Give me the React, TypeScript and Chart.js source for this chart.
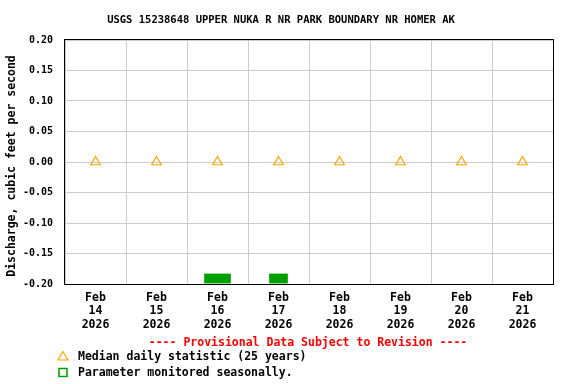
import React, { useEffect, useRef } from 'react';
import { Chart, registerables } from 'chart.js';

Chart.register(...registerables);

const titleText = 'USGS 15238648 UPPER NUKA R NR PARK BOUNDARY NR HOMER AK';
const yAxisTitle = 'Discharge, cubic feet per second';
const provisionalText = '---- Provisional Data Subject to Revision ----';
const medianLegend = 'Median daily statistic (25 years)';
const seasonalLegend = 'Parameter monitored seasonally.';

const dayLabels: string[][] = [
  ['Feb', '14', '2026'],
  ['Feb', '15', '2026'],
  ['Feb', '16', '2026'],
  ['Feb', '17', '2026'],
  ['Feb', '18', '2026'],
  ['Feb', '19', '2026'],
  ['Feb', '20', '2026'],
  ['Feb', '21', '2026'],
];
const medianValues = [0, 0, 0, 0, 0, 0, 0, 0];
const seasonalFeb16 = [null, null, [-0.1985, -0.1835], null, null, null, null, null];
const seasonalFeb17 = [null, null, null, [-0.1985, -0.1835], null, null, null, null];
const yMin = -0.2;
const yMax = 0.2;
const yStep = 0.05;

const FONT = '"DejaVu Sans Mono", "Liberation Mono", monospace';
const ORANGE = '#FFA500';
const GREEN = 'rgb(0,160,0)';

const decorPlugin = {
  id: 'decor',
  afterDraw(chart: any) {
    const { ctx, chartArea } = chart;
    const { left, right, top, bottom } = chartArea;
    ctx.save();
    // frame
    ctx.strokeStyle = '#000';
    ctx.lineWidth = 1;
    const l = Math.round(left) - 0.5;
    const r = Math.round(right) + 0.5;
    const t = Math.round(top) - 0.5;
    const b = Math.round(bottom) + 0.5;
    ctx.strokeRect(l, t, r - l, b - t);

    // title
    ctx.fillStyle = '#000';
    ctx.font = `bold 10.5px ${FONT}`;
    ctx.textAlign = 'center';
    ctx.textBaseline = 'middle';
    ctx.fillText(titleText, 281, 20);

    // y axis title
    ctx.save();
    ctx.font = `bold 11.5px ${FONT}`;
    ctx.translate(12, (top + bottom) / 2 + 4);
    ctx.rotate(-Math.PI / 2);
    ctx.fillText(yAxisTitle, 0, 0);
    ctx.restore();

    // provisional
    ctx.font = `bold 11.5px ${FONT}`;
    ctx.fillStyle = '#FF0000';
    ctx.fillText(provisionalText, 308, 343);

    // legend entries
    ctx.textAlign = 'left';
    ctx.fillStyle = '#000';
    ctx.fillText(medianLegend, 78, 357);
    ctx.fillText(seasonalLegend, 78, 373);

    // triangle marker
    ctx.strokeStyle = ORANGE;
    ctx.lineWidth = 1.2;
    ctx.beginPath();
    ctx.moveTo(63, 351.5);
    ctx.lineTo(68, 360);
    ctx.lineTo(58, 360);
    ctx.closePath();
    ctx.stroke();

    // square marker
    ctx.strokeStyle = GREEN;
    ctx.lineWidth = 1.5;
    ctx.strokeRect(59, 368.5, 8, 8);
    ctx.restore();
  },
};

export default function App() {
  const ref = useRef<HTMLCanvasElement | null>(null);

  useEffect(() => {
    document.body.style.margin = '0';
    const canvas = ref.current;
    if (!canvas) return;
    const chart = new Chart(canvas, {
      type: 'bar',
      data: {
        labels: dayLabels as any,
        datasets: [
          {
            type: 'line',
            label: medianLegend,
            data: medianValues,
            showLine: false,
            pointStyle: 'triangle',
            pointRadius: 5.5,
            pointHoverRadius: 5.5,
            pointBorderColor: ORANGE,
            pointBackgroundColor: 'rgba(0,0,0,0)',
            pointBorderWidth: 1.2,
            borderColor: ORANGE,
            backgroundColor: 'rgba(0,0,0,0)',
            order: 0,
          } as any,
          {
            type: 'bar',
            label: seasonalLegend,
            data: seasonalFeb16 as any,
            backgroundColor: GREEN,
            borderWidth: 0,
            barThickness: 26,
            grouped: false,
            order: 1,
          } as any,
          {
            type: 'bar',
            label: seasonalLegend,
            data: seasonalFeb17 as any,
            backgroundColor: GREEN,
            borderWidth: 0,
            barThickness: 18,
            grouped: false,
            order: 1,
          } as any,
        ],
      },
      options: {
        responsive: false,
        animation: false,
        events: [],
        layout: { padding: { left: 0, right: 23, top: 40, bottom: 50 } },
        plugins: {
          legend: { display: false },
          title: { display: false },
          tooltip: { enabled: false },
        },
        scales: {
          x: {
            type: 'category',
            offset: true,
            grid: { offset: true, color: '#CCCCCC', lineWidth: 1, drawTicks: false },
            border: { display: false },
            ticks: {
              color: '#000',
              font: { family: FONT, size: 11.5, weight: 'bold', lineHeight: '13.5px' } as any,
              padding: 7,
              maxRotation: 0,
              autoSkip: false,
            },
            afterFit: (scale: any) => {
              scale.height = 50;
            },
          },
          y: {
            type: 'linear',
            min: yMin,
            max: yMax,
            grid: { color: '#CCCCCC', lineWidth: 1, drawTicks: false },
            border: { display: false },
            ticks: {
              stepSize: yStep,
              color: '#000',
              padding: 12,
              font: { family: FONT, size: 10, weight: 'bold' } as any,
              callback: (v: any) => Number(v).toFixed(2),
            },
            title: { display: false },
            afterFit: (scale: any) => {
              scale.width = 65;
            },
          },
        },
      } as any,
      plugins: [decorPlugin],
    });
    return () => chart.destroy();
  }, []);

  return (
    <canvas
      ref={ref}
      width={576}
      height={384}
      style={{ display: 'block', width: '576px', height: '384px' }}
    />
  );
}
